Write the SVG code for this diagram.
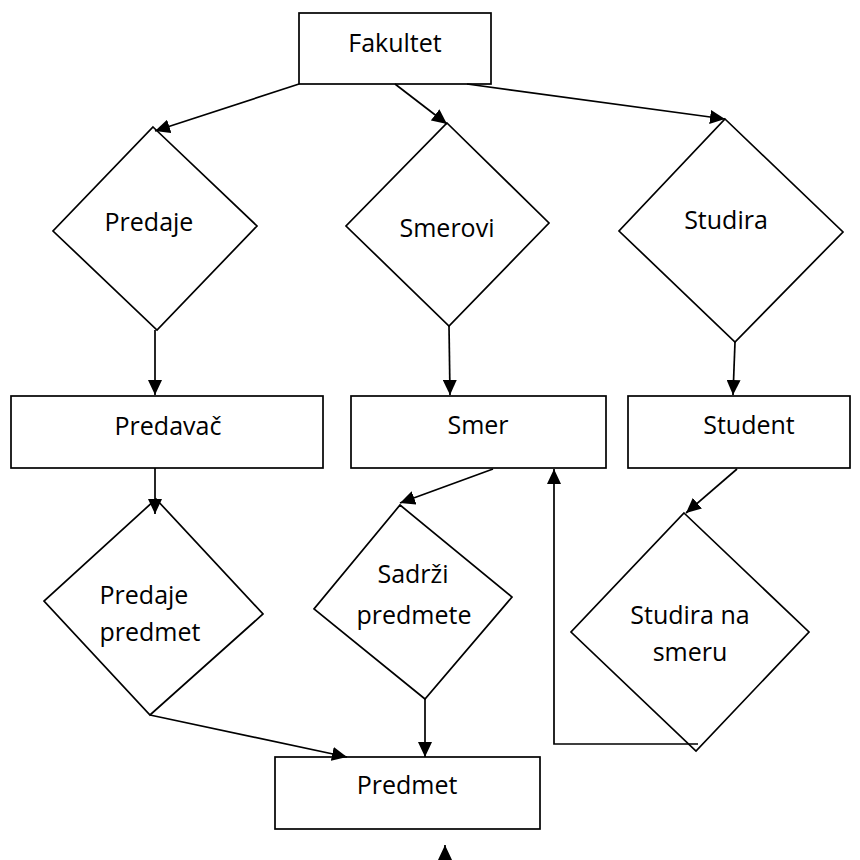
<svg xmlns="http://www.w3.org/2000/svg" width="860" height="860" viewBox="0 0 860 860">
  <defs>
    <marker id="arrow" markerUnits="userSpaceOnUse" markerWidth="16" markerHeight="14" refX="15" refY="7" orient="auto">
      <path d="M0,0 L15,7 L0,14 z" fill="#000"/>
    </marker>
    <style>
      .box { fill: #fff; stroke: #000; stroke-width: 1.7; }
      .dia { fill: #fff; stroke: #000; stroke-width: 1.7; }
      .lbl { font-family: "Open Sans", "Liberation Sans", sans-serif; font-size: 25px; fill: #000; text-anchor: middle; }
      .conn { fill: none; stroke: #000; stroke-width: 1.7; marker-end: url(#arrow); }
    </style>
  </defs>
  <rect width="860" height="860" fill="#fff"/>

  <!-- entities -->
  <g id="fakultet">
    <rect class="box" x="299" y="13" width="192" height="71"/>
    <text class="lbl" x="395" y="52">Fakultet</text>
  </g>
  <g id="predavac">
    <rect class="box" x="11" y="396" width="312" height="72"/>
    <text class="lbl" x="168" y="435">Predavač</text>
  </g>
  <g id="smer">
    <rect class="box" x="351" y="396" width="255" height="72"/>
    <text class="lbl" x="478" y="434">Smer</text>
  </g>
  <g id="student">
    <rect class="box" x="628" y="396" width="222" height="72"/>
    <text class="lbl" x="749" y="434">Student</text>
  </g>
  <g id="predmet">
    <rect class="box" x="275" y="757" width="265" height="72"/>
    <text class="lbl" x="407" y="794">Predmet</text>
  </g>

  <!-- relationships -->
  <g id="predaje">
    <polygon class="dia" points="153,127 257,226 157,330 53,231"/>
    <text class="lbl" x="149" y="231">Predaje</text>
  </g>
  <g id="smerovi">
    <polygon class="dia" points="447,123 549,223 449,326 346,226"/>
    <text class="lbl" x="447" y="237">Smerovi</text>
  </g>
  <g id="studira">
    <polygon class="dia" points="725,119 843,232 735,342 619,231"/>
    <text class="lbl" x="726" y="229">Studira</text>
  </g>
  <g id="predaje-predmet">
    <polygon class="dia" points="156,499 263,614 150,715 44,601"/>
    <text class="lbl" x="144" y="604">Predaje</text>
    <text class="lbl" x="150" y="641">predmet</text>
  </g>
  <g id="sadrzi-predmete">
    <polygon class="dia" points="400,505 512,597 425,699 314,609"/>
    <text class="lbl" x="413" y="583">Sadrži</text>
    <text class="lbl" x="414" y="624">predmete</text>
  </g>
  <g id="studira-na-smeru">
    <polygon class="dia" points="684,513 809,632 696,751 571,632"/>
    <text class="lbl" x="690" y="624">Studira na</text>
    <text class="lbl" x="690" y="661">smeru</text>
  </g>

  <!-- connectors -->
  <g id="connectors">
    <line class="conn" x1="299" y1="84" x2="155" y2="131"/>
    <line class="conn" x1="395" y1="84" x2="447" y2="124"/>
    <line class="conn" x1="467" y1="84" x2="725" y2="119"/>
    <line class="conn" x1="155" y1="330" x2="155" y2="395"/>
    <line class="conn" x1="449" y1="326" x2="450" y2="395"/>
    <line class="conn" x1="735" y1="342" x2="733" y2="395"/>
    <line class="conn" x1="155" y1="468" x2="155" y2="514"/>
    <line class="conn" x1="493" y1="469" x2="400" y2="503"/>
    <line class="conn" x1="737" y1="469" x2="686" y2="513"/>
    <line class="conn" x1="150" y1="715" x2="347" y2="757"/>
    <line class="conn" x1="425" y1="699" x2="425" y2="757"/>
    <polyline class="conn" points="698,744 554,744 554,469"/>
    <line class="conn" x1="445" y1="890" x2="445" y2="845"/>
  </g>
</svg>
